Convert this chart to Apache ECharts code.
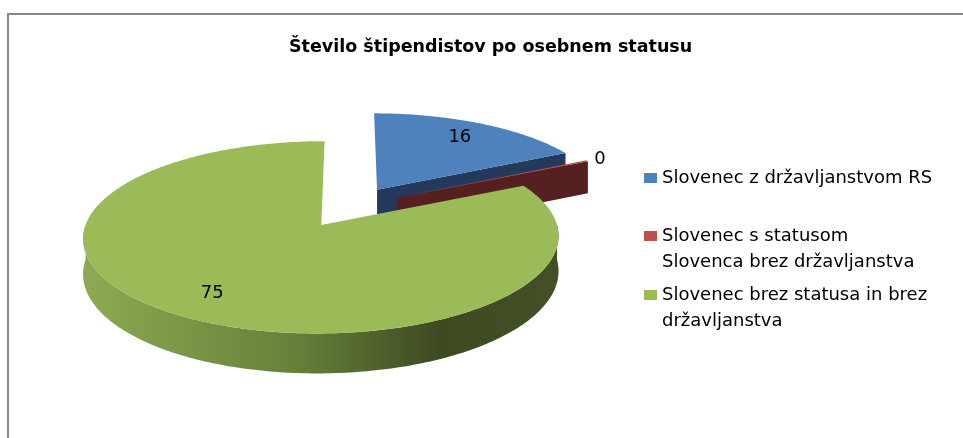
<!DOCTYPE html>
<html>
<head>
<meta charset="utf-8">
<script src="https://cdn.jsdelivr.net/npm/echarts@6/dist/echarts.min.js"></script>
<style>
  html, body { margin: 0; padding: 0; background: #fff; }
  #chart { width: 963px; height: 438px; }
</style>
</head>
<body>
<div id="chart"></div>
<script>
// podatki
const categories = [
  'Slovenec z državljanstvom RS',
  'Slovenec s statusom Slovenca brez državljanstva',
  'Slovenec brez statusa in brez državljanstva'
];
// prelomi vrstic v legendi (prazna prva vrstica poravna ikono s prvo vrstico)
const legendLabels = [
  'Slovenec z državljanstvom RS',
  '\nSlovenec s statusom\nSlovenca brez državljanstva',
  '\nSlovenec brez statusa in brez\ndržavljanstva'
];
// 0 je v grafu prikazan kot tanek rezec, zato majhna vrednost
const values = [16, 0.2, 75];

// barve
const topColors = ['#4F81BD', '#C0504D', '#9BBB59'];
const sideColors = ['#233A5C', '#55201F', null];
const legendTops = [165, 197, 256];

// postavitev 3D torte
const pie = { cx: 350, cy: 207, rx: 230, ry: 90, depth: 34, dist: 8, explode: 0.23 };
const total = values.reduce((a, b) => a + b, 0);

function project(X, Y, Z) {
  const f = pie.dist / (pie.dist + Y);
  return [pie.cx + pie.rx * X * f, pie.cy - pie.ry * Y * f + pie.depth * Z * f];
}

function sliceAngles(i) {
  let before = 0;
  for (let k = 0; k < i; k++) before += values[k];
  const a1 = Math.PI / 2 - before / total * 2 * Math.PI;
  const a2 = a1 - values[i] / total * 2 * Math.PI;
  return [a1, a2];
}

function sideFill(i) {
  if (sideColors[i]) return sideColors[i];
  return new echarts.graphic.LinearGradient(0, 0, 1, 0, [
    { offset: 0, color: '#8DAA53' },
    { offset: 0.45, color: '#66803A' },
    { offset: 0.75, color: '#3E4A22' },
    { offset: 1, color: '#434F26' }
  ]);
}

function renderSlice(params, api) {
  const i = params.seriesIndex;
  const [a1, a2] = sliceAngles(i);
  const mid = (a1 + a2) / 2;
  const ox = pie.explode * Math.cos(mid);
  const oy = pie.explode * Math.sin(mid);
  const pt = (r, a, z) => project(ox + r * Math.cos(a), oy + r * Math.sin(a), z);
  const arc = (from, to, z) => {
    const n = Math.max(2, Math.ceil(Math.abs(from - to) / (Math.PI / 180)));
    const out = [];
    for (let k = 0; k <= n; k++) out.push(pt(1, from + (to - from) * k / n, z));
    return out;
  };
  const wall = a => [pt(0, a, 0), pt(1, a, 0), pt(1, a, 1), pt(0, a, 1)];

  // samo stene, obrnjene proti gledalcu
  const front = [];
  if (Math.cos(a1) < -1e-6) front.push(wall(a1));
  if (Math.cos(a2) > 1e-6) front.push(wall(a2));

  const children = [];
  // zunanji plašč (samo sprednja polovica)
  for (let k = -2; k <= 1; k++) {
    const lo = Math.max(a2, -Math.PI + 2 * Math.PI * k);
    const hi = Math.min(a1, 2 * Math.PI * k);
    if (hi - lo > 1e-4) {
      const pts = arc(hi, lo, 0).concat(arc(lo, hi, 1));
      children.push({ type: 'polygon', shape: { points: pts }, style: { fill: sideFill(i) } });
    }
  }
  front.forEach(p => children.push({ type: 'polygon', shape: { points: p }, style: { fill: sideFill(i) } }));
  // zgornja ploskev
  children.push({
    type: 'polygon',
    shape: { points: [pt(0, 0, 0)].concat(arc(a1, a2, 0)) },
    style: { fill: api.visual('color') }
  });
  // oznaka vrednosti
  const small = values[i] / total < 0.03;
  const lp = pt(small ? 1.04 : 0.78, mid, 0);
  children.push({
    type: 'text',
    x: lp[0],
    y: lp[1],
    style: {
      text: String(Math.round(api.value(0))),
      fill: '#000',
      font: '18px "DejaVu Sans"',
      align: small ? 'left' : 'center',
      verticalAlign: 'middle'
    }
  });
  return { type: 'group', children };
}

const chart = echarts.init(document.getElementById('chart'));

const option = {
  animation: false,
  backgroundColor: '#fff',
  title: {
    text: 'Število štipendistov po osebnem statusu',
    left: 289,
    top: 38,
    padding: 0,
    textStyle: { fontFamily: 'DejaVu Sans', fontSize: 17.5, fontWeight: 'bold', color: '#000' }
  },
  graphic: [{
    type: 'rect',
    z: -1,
    shape: { x: 8, y: 14, width: 2000, height: 1000 },
    style: { fill: 'none', stroke: '#868686', lineWidth: 2 }
  }],
  legend: categories.map((name, i) => ({
    data: [name],
    left: 644,
    top: legendTops[i],
    orient: 'vertical',
    padding: 0,
    icon: 'rect',
    itemWidth: 13,
    itemHeight: 10,
    selectedMode: false,
    formatter: () => legendLabels[i],
    textStyle: { fontFamily: 'DejaVu Sans', fontSize: 18, lineHeight: 26, color: '#000' }
  })),
  series: categories.map((name, i) => ({
    type: 'custom',
    name: name,
    coordinateSystem: 'none',
    itemStyle: { color: topColors[i] },
    renderItem: renderSlice,
    data: [values[i]]
  }))
};

chart.setOption(option);
</script>
</body>
</html>
